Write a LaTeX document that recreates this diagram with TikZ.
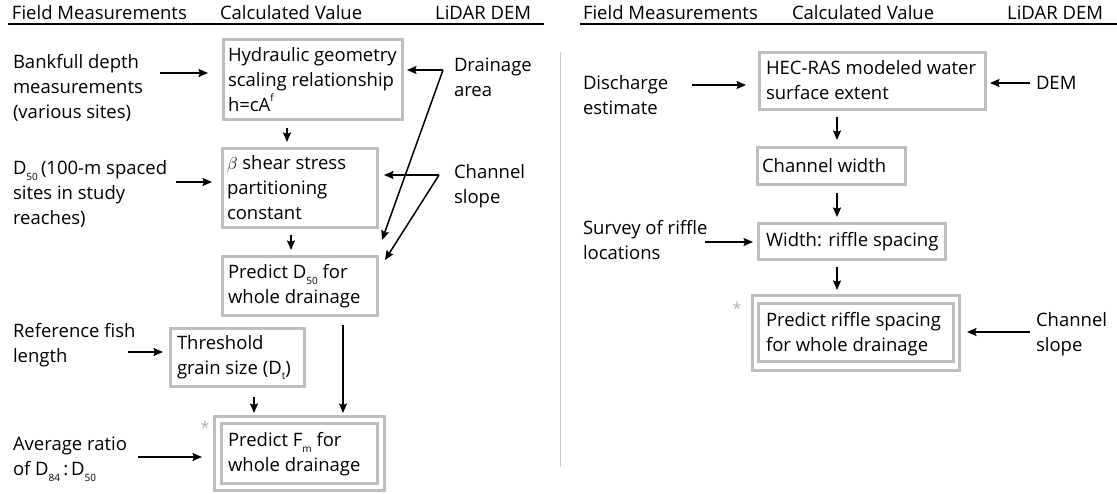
\documentclass[tikz,border=0pt]{standalone}
\usepackage{fontspec}
\setmainfont{Open Sans}
\usetikzlibrary{arrows.meta}
\newcommand{\lsub}[1]{\raisebox{-0.32em}{\fontsize{10}{10}\selectfont #1}}
\newcommand{\hsup}[1]{\raisebox{0.55em}{\fontsize{10}{10}\selectfont #1}}
\definecolor{boxgray}{RGB}{190,190,190}
\definecolor{stargray}{RGB}{175,175,175}
\definecolor{sepgray}{RGB}{200,200,200}
\begin{document}
\begin{tikzpicture}[x=1pt,y=-1pt,
  every node/.style={font=\fontsize{18.5}{25}\selectfont, inner sep=0pt, outer sep=0pt},
  gbox/.style={draw=boxgray, line width=3.4pt, fill=none},
  lbl/.style={anchor=west, align=left},
  arr/.style={line width=1.5pt, -{Stealth[length=9.5pt,width=8pt,inset=1.5pt]}},
  star/.style={text=stargray, font=\fontsize{16}{16}\selectfont},
  rulel/.style={line width=2pt}]
\useasboundingbox (0,0) rectangle (1117,494);
% headers
\node[anchor=west] (hf1) at (12,13) {Field Measurements};
\node[anchor=west] (hc1) at (220,13) {Calculated Value};
\node[anchor=east] (hl1) at (531,13) {LiDAR DEM};
\node[anchor=west] (hf2) at (583,13) {Field Measurements};
\node[anchor=west] (hc2) at (792,13) {Calculated Value};
\node[anchor=east] (hl2) at (1103,13) {LiDAR DEM};
\draw[rulel] (8,24) -- (544,24);
\draw[rulel] (580,24) -- (1117,24);
\draw[sepgray, line width=1pt] (560,52) -- (560,467);
% left boxes
\node[gbox, minimum width=179pt, minimum height=80pt] (b1) at (313,79.5) {};
\node[gbox, minimum width=155pt, minimum height=79pt] (b2) at (300,188) {};
\node[gbox, minimum width=155pt, minimum height=59pt] (b3) at (300,286) {};
\node[gbox, minimum width=134pt, minimum height=58pt] (b4) at (237.5,357.5) {};
\node[gbox, line width=2.8pt, minimum width=170pt, minimum height=74pt] (b5o) at (299.5,453.5) {};
\node[gbox, line width=2.8pt, minimum width=156pt, minimum height=60pt] (b5) at (299.5,453.5) {};
\node[lbl] (t1) at (228,80) {Hydraulic geometry\\scaling relationship\\h=cA\hsup{f}};
\node[lbl] (t2) at (227,188) {$\beta$ shear stress\\partitioning\\constant};
\node[lbl] (t3) at (228,286) {Predict D\lsub{50} for\\whole drainage};
\node[lbl] (t4) at (177,357.5) {Threshold\\grain size (D\lsub{t})};
\node[lbl] (t5) at (228,454.5) {Predict F\lsub{m} for\\whole drainage};
\node[star] (s1) at (205,427) {*};
% left labels
\node[lbl] (bank) at (13,88) {Bankfull depth\\measurements\\(various sites)};
\node[lbl] (d50) at (13,194) {D\lsub{50}\,(100-m spaced\\sites in study\\reaches)};
\node[lbl] (fish) at (13,345.5) {Reference fish\\length};
\node[lbl] (avg) at (13,459.5) {Average ratio\\of D\lsub{84}\,:\,D\lsub{50}};
\node[lbl] (drain) at (454,77) {Drainage\\area};
\node[lbl] (cslope) at (454,186) {Channel\\slope};
% left arrows
\draw[arr, shorten >=15.5pt] (160,73) -- (b1.west |- 0,73);
\draw[arr, shorten >=10.5pt] (176,182) -- (b2.west |- 0,182);
\draw[arr, shorten <=8.5pt, shorten >=6.5pt] (b1.south -| 287,0) -- (b2.north -| 287,0);
\draw[arr, shorten <=7.5pt, shorten >=6.5pt] (b2.south -| 291,0) -- (b3.north -| 291,0);
\draw[arr, shorten >=7.5pt] (128,352) -- (b4.west |- 0,352);
\draw[arr, shorten <=10.5pt, shorten >=3.5pt] (b4.south -| 254,0) -- (b5o.north -| 254,0);
\draw[arr, shorten <=9.5pt, shorten >=3.5pt] (b3.south -| 343,0) -- (b5o.north -| 343,0);
\draw[arr, shorten >=12.5pt] (138,457) -- (b5o.west |- 0,457);
\coordinate (dc) at (443,70);
\coordinate (dt) at (382,240);
\draw[arr, shorten >=4.5pt] (dc) -- (b1.east |- dc);
\draw[arr] (dc) -- (dt);
\coordinate (cc) at (439,175);
\coordinate (ct) at (385,260);
\draw[arr, shorten >=6.5pt] (cc) -- (b2.east |- cc);
\draw[arr] (cc) -- (ct);
% right boxes
\node[gbox, minimum width=226pt, minimum height=57pt] (r1) at (872.5,81) {};
\node[gbox, minimum width=148pt, minimum height=37pt] (r2) at (831.5,166) {};
\node[gbox, minimum width=187pt, minimum height=36pt] (r3) at (852,241.5) {};
\node[gbox, line width=2.8pt, minimum width=207pt, minimum height=75pt] (r4o) at (856,333) {};
\node[gbox, line width=2.8pt, minimum width=195pt, minimum height=58pt] (r4) at (856,332.5) {};
\node[lbl] (u1) at (766,80) {HEC-RAS modeled water\\surface extent};
\node[lbl] (u2) at (762,166) {Channel width};
\node[lbl] (u3) at (766,241.5) {Width: riffle spacing};
\node[lbl] (u4) at (766,334.5) {Predict riffle spacing\\for whole drainage};
\node[star] (s2) at (737,308) {*};
% right labels
\node[lbl] (disch) at (583,95.5) {Discharge\\estimate};
\node[lbl] (survey) at (583,240) {Survey of riffle\\locations};
\node[lbl] (dem) at (1036,83) {DEM};
\node[lbl] (cslope2) at (1036,334.5) {Channel\\slope};
% right arrows
\draw[arr, shorten >=13.5pt] (692,85) -- (r1.west |- 0,85);
\draw[arr, shorten >=4.5pt] (1030,83) -- (r1.east |- 0,83);
\draw[arr, shorten <=7.5pt, shorten >=7.5pt] (r1.south -| 837,0) -- (r2.north -| 837,0);
\draw[arr, shorten <=8.5pt, shorten >=6.5pt] (r2.south -| 837,0) -- (r3.north -| 837,0);
\draw[arr, shorten >=5.5pt] (705,242) -- (r3.west |- 0,242);
\draw[arr, shorten <=7.5pt, shorten >=5.5pt] (r3.south -| 837,0) -- (r4o.north -| 837,0);
\draw[arr, shorten >=7.5pt] (1030,332) -- (r4o.east |- 0,332);
\end{tikzpicture}
\end{document}
